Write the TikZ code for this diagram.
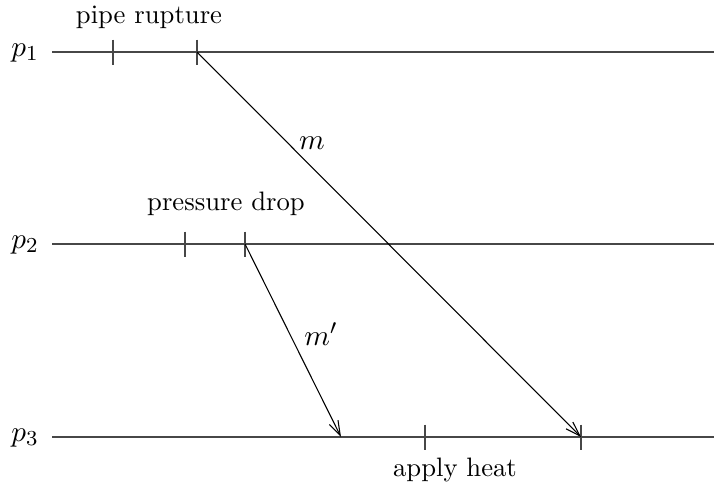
\documentclass[tikz,border=0pt]{standalone}
\usetikzlibrary{arrows.meta}
\begin{document}
\begin{tikzpicture}[x=0.375pt,y=-0.375pt,
  line/.style={draw=black!72,line width=0.4pt},
  tick/.style={draw=black!72,line width=0.4pt},
  msg/.style={draw=black,line width=0.4pt,-{Straight Barb[length=5.5pt,width=3.6pt]}},
  lbl/.style={inner sep=0pt,font=\fontsize{10}{12}\selectfont},
  plbl/.style={inner sep=0pt,font=\fontsize{11}{13}\selectfont}]
\useasboundingbox (0,0) rectangle (714,486);
% process labels
\node[plbl] (p1) at (25,53) {$p_1$};
\node[plbl] (p2) at (25,245) {$p_2$};
\node[plbl] (p3) at (25,438) {$p_3$};
% timelines
\coordinate (s1) at (52,52); \coordinate (e1) at (714,52);
\coordinate (s2) at (52,244); \coordinate (e2) at (714,244);
\coordinate (s3) at (52,437); \coordinate (e3) at (714,437);
\draw[line] (s1) -- (e1);
\draw[line] (s2) -- (e2);
\draw[line] (s3) -- (e3);
% events
\coordinate (a1) at (113,52); \coordinate (a2) at (197,52);
\coordinate (b1) at (185,244); \coordinate (b2) at (245,244);
\coordinate (c1) at (341,437); \coordinate (c2) at (425,437); \coordinate (c3) at (581,437);
\foreach \c in {a1,a2,b1,b2,c2,c3}
  \draw[tick] ([yshift=12.5*0.375pt]\c) -- ([yshift=-12.5*0.375pt]\c);
% messages
\draw[msg] (a2) -- (c3);
\draw[msg] (b2) -- (c1);
% labels
\node[lbl] (l1) at (149,17) {pipe rupture};
\node[lbl] (l2) at (226,204) {pressure drop};
\node[lbl] (l3) at (455,470) {apply heat};
\node[plbl] (lm) at (312,143) {$m$};
\node[plbl] (lm2) at (321,334) {$m'$};
\end{tikzpicture}
\end{document}
